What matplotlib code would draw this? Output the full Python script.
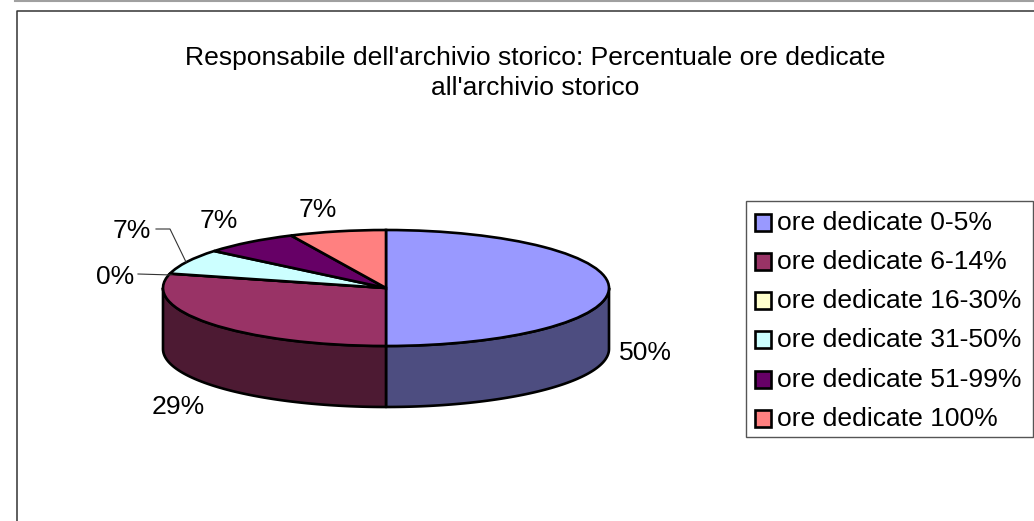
# -*- coding: utf-8 -*-
import numpy as np
import matplotlib
matplotlib.use('Agg')
import matplotlib.pyplot as plt
from matplotlib.patches import Rectangle

plt.rcParams['font.family'] = ['Liberation Sans', 'DejaVu Sans']

titolo = "Responsabile dell'archivio storico: Percentuale ore dedicate\nall'archivio storico"
categorie = ['ore dedicate 0-5%', 'ore dedicate 6-14%', 'ore dedicate 16-30%',
             'ore dedicate 31-50%', 'ore dedicate 51-99%', 'ore dedicate 100%']
valori = [50, 29, 0, 7, 7, 7]
colori = ['#9999FF', '#993366', '#FFFFCC', '#CCFFFF', '#660066', '#FF8080']
scuri = ['#4D4D80', '#4D1A33', '#808066', '#668080', '#330033', '#804040']

W, H = 1034, 521
CX, CY = 386, 288   # centro della torta in pixel
RX, RY = 223, 58
DEPTH = 61
FS = 19.05

fig = plt.figure(figsize=(W / 100, H / 100), dpi=100)
# assi in unita della torta: raggio 1 in orizzontale e in verticale
ax = fig.add_axes([0, 0, 1, 1])
ax.pie(valori, colors=colori, startangle=90, counterclock=False, radius=1,
       wedgeprops={'edgecolor': 'black', 'linewidth': 1.9, 'zorder': 5})
ax.set_aspect('auto')
ax.set_xlim(-CX / RX, (W - CX) / RX)
ax.set_ylim(-(H - CY) / RY, CY / RY)
ax.axis('off')

# parete laterale: solo la parte davanti della torta
d = DEPTH / RY
angoli = np.cumsum([0] + valori) / 100 * 2 * np.pi
for i in range(len(valori)):
    a0, a1 = max(angoli[i], np.pi / 2), min(angoli[i + 1], 3 * np.pi / 2)
    if a1 <= a0:
        continue
    t = np.linspace(a0, a1, 80)
    x, y = np.sin(t), np.cos(t)
    ax.fill(np.r_[x, x[::-1]], np.r_[y, y[::-1] - d], facecolor=scuri[i],
            edgecolor='black', linewidth=1.9, zorder=3, joinstyle='round')

# cornice del grafico, solo sopra e a sinistra
ov = fig.add_axes([0, 0, 1, 1], facecolor='none')
ov.set_xlim(0, W)
ov.set_ylim(H, 0)
ov.axis('off')
ov.plot([15, W], [0.5, 0.5], color='#A0A0A0', lw=1.5)
ov.plot([17, 17, W], [H, 11, 11], color='#333333', lw=1.1)

ov.text(535, 73, titolo, ha='center', va='center', fontsize=FS,
        color='black', linespacing=1.33)

# etichette dei valori
ov.text(645.5, 353, '50%', ha='center', va='center', fontsize=FS)
ov.text(178, 407, '29%', ha='center', va='center', fontsize=FS)
ov.text(115, 277, '0%', ha='center', va='center', fontsize=FS)
ov.text(132, 231, '7%', ha='center', va='center', fontsize=FS)
ov.text(219, 221, '7%', ha='center', va='center', fontsize=FS)
ov.text(318, 210, '7%', ha='center', va='center', fontsize=FS)
ov.plot([138, 172], [274, 275], color='#333333', lw=0.8)
ov.plot([156, 170, 186], [229, 229, 262], color='#333333', lw=0.8)

# legenda
ov.add_patch(Rectangle((746, 200.5), 287, 236.5, facecolor='white',
                       edgecolor='#555555', lw=1))
righe = [222, 261, 300, 339, 379, 418]
for nome, col, yy in zip(categorie, colori, righe):
    ov.add_patch(Rectangle((754.5, yy - 8.5), 16.5, 17, facecolor=col,
                           edgecolor='black', lw=1.9))
    ov.text(777, yy + 1, nome, ha='left', va='center', fontsize=FS)

fig.savefig('out.png', dpi=100)
